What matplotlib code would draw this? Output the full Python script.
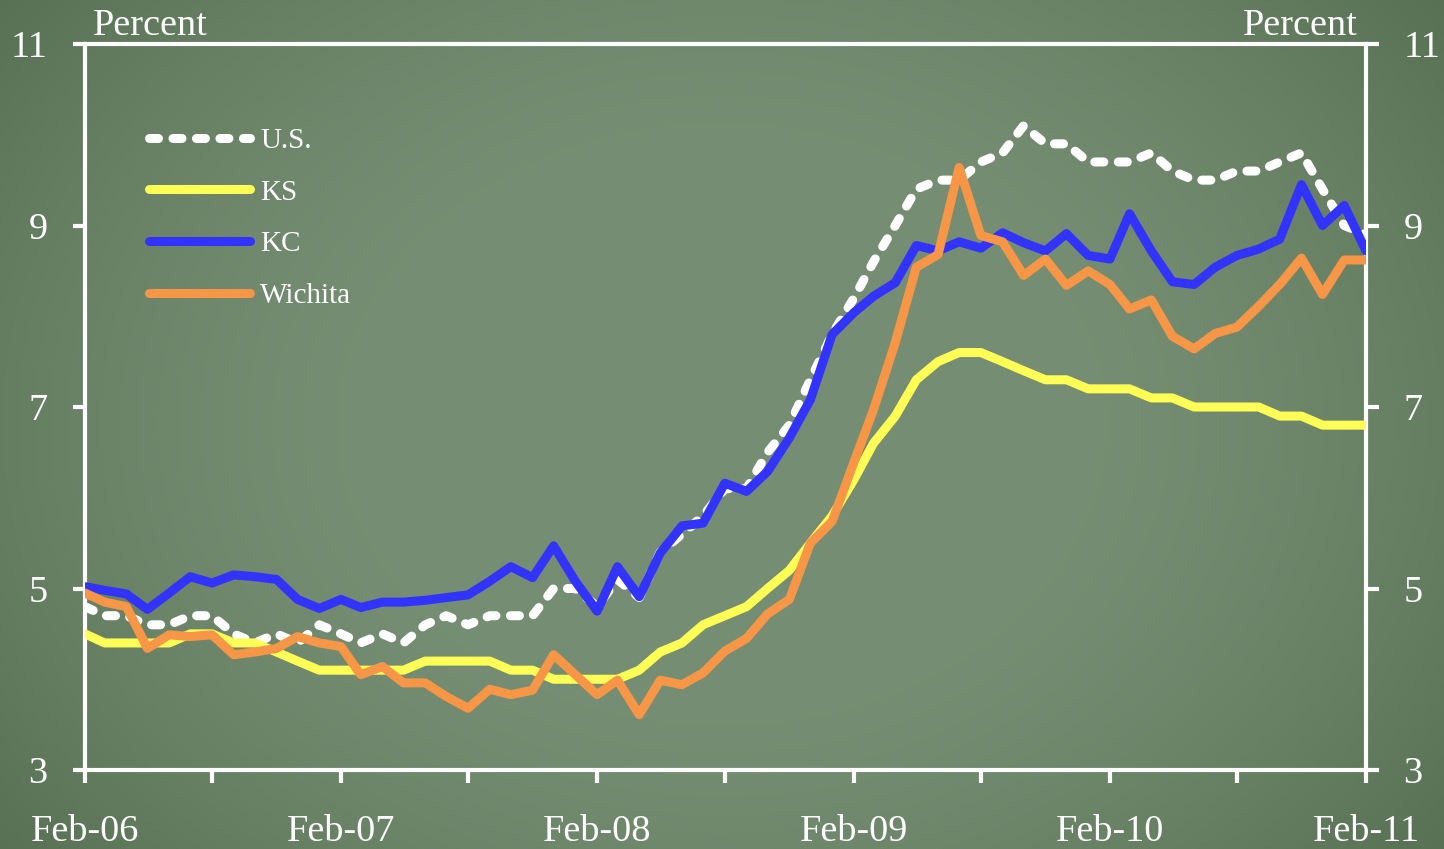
import numpy as np
import pandas as pd
import matplotlib
matplotlib.use("Agg")
import matplotlib.pyplot as plt
import matplotlib.dates as mdates

# Monthly unemployment rates, Feb 2006 - Feb 2011 (percent)
months = pd.date_range("2006-02-01", "2011-02-01", freq="MS")

us = [4.8, 4.7, 4.7, 4.6, 4.6, 4.7, 4.7, 4.5, 4.4, 4.5,
      4.4, 4.6, 4.5, 4.4, 4.5, 4.4, 4.6, 4.7, 4.6, 4.7,
      4.7, 4.7, 5.0, 5.0, 4.8, 5.1, 4.9, 5.4, 5.6, 5.8,
      6.1, 6.1, 6.5, 6.8, 7.3, 7.8, 8.2, 8.6, 9.0, 9.4,
      9.5, 9.5, 9.7, 9.8, 10.1, 9.9, 9.9, 9.7, 9.7, 9.7,
      9.8, 9.6, 9.5, 9.5, 9.6, 9.6, 9.7, 9.8, 9.4, 9.0,
      8.9]

ks = [4.5, 4.4, 4.4, 4.4, 4.4, 4.5, 4.5, 4.4, 4.4, 4.3,
      4.2, 4.1, 4.1, 4.1, 4.1, 4.1, 4.2, 4.2, 4.2, 4.2,
      4.1, 4.1, 4.0, 4.0, 4.0, 4.0, 4.1, 4.3, 4.4, 4.6,
      4.7, 4.8, 5.0, 5.2, 5.5, 5.8, 6.2, 6.6, 6.9, 7.3,
      7.5, 7.6, 7.6, 7.5, 7.4, 7.3, 7.3, 7.2, 7.2, 7.2,
      7.1, 7.1, 7.0, 7.0, 7.0, 7.0, 6.9, 6.9, 6.8, 6.8,
      6.8]

kc = [5.02, 4.98, 4.94, 4.77, 4.95, 5.13, 5.06, 5.15, 5.13, 5.10,
      4.88, 4.78, 4.88, 4.79, 4.85, 4.85, 4.87, 4.90, 4.93, 5.08,
      5.24, 5.12, 5.47, 5.08, 4.75, 5.24, 4.91, 5.39, 5.69, 5.72,
      6.16, 6.07, 6.29, 6.66, 7.08, 7.80, 8.04, 8.22, 8.37, 8.78,
      8.72, 8.82, 8.75, 8.92, 8.81, 8.72, 8.91, 8.67, 8.63, 9.13,
      8.72, 8.38, 8.35, 8.54, 8.67, 8.74, 8.85, 9.45, 9.00, 9.22,
      8.72]

wichita = [4.95, 4.85, 4.80, 4.34, 4.49, 4.47, 4.49, 4.27, 4.30, 4.34,
           4.47, 4.40, 4.36, 4.05, 4.14, 3.96, 3.96, 3.81, 3.68, 3.89,
           3.83, 3.88, 4.27, 4.05, 3.83, 3.99, 3.61, 3.99, 3.94, 4.07,
           4.31, 4.45, 4.72, 4.88, 5.50, 5.74, 6.39, 6.97, 7.71, 8.54,
           8.68, 9.64, 8.89, 8.82, 8.45, 8.63, 8.34, 8.50, 8.35, 8.08,
           8.18, 7.78, 7.64, 7.81, 7.88, 8.11, 8.35, 8.64, 8.24, 8.62,
           8.62]

y_ticks = [3, 5, 7, 9, 11]

plt.rcParams["font.family"] = ["Liberation Serif", "DejaVu Serif"]

fig = plt.figure(figsize=(14.44, 8.49), dpi=100)

# chalkboard-style green backdrop, lighter toward the middle
h, w = 849, 1444
yy, xx = np.mgrid[-1:1:h * 1j, -1:1:w * 1j]
r = np.sqrt((xx * 1.0) ** 2 + (yy * 0.75) ** 2)
t = np.clip((r - 0.45) / 0.8, 0, 1) ** 1.5
center = np.array([118, 142, 115]) / 255.0
edge = np.array([88, 113, 84]) / 255.0
bg = center[None, None, :] * (1 - t[..., None]) + edge[None, None, :] * t[..., None]
bg_ax = fig.add_axes([0, 0, 1, 1], zorder=0)
bg_ax.imshow(bg, aspect="auto", extent=[0, 1, 0, 1])
bg_ax.set_axis_off()

ax = fig.add_axes([85 / 1444, 1 - 770 / 849, (1366 - 85) / 1444, (770 - 44) / 849], zorder=1)
ax.set_facecolor("none")

lw = 6.5
ax.plot(months, us, color="white", lw=lw, dashes=(1.0, 1.6),
        dash_capstyle="round", label="U.S.", zorder=2)
ax.plot(months, ks, color="#FFFF55", lw=lw, solid_capstyle="round", label="KS", zorder=3)
ax.plot(months, kc, color="#3333FF", lw=lw, solid_capstyle="round", label="KC", zorder=4)
ax.plot(months, wichita, color="#F79646", lw=lw, solid_capstyle="round",
        label="Wichita", zorder=5)

ax.set_xlim(months[0], months[-1])
ax.set_ylim(3, 11)
ax.set_yticks(y_ticks)
ax.set_yticklabels([str(v) for v in y_ticks])

ax.xaxis.set_major_locator(mdates.MonthLocator(bymonth=[2]))
ax.xaxis.set_major_formatter(mdates.DateFormatter("%b-%y"))
ax.xaxis.set_minor_locator(mdates.MonthLocator(bymonth=[8]))

for s in ax.spines.values():
    s.set_color("white")
    s.set_linewidth(3)

ax.tick_params(axis="y", which="both", direction="out", length=9, width=3,
               color="white", labelcolor="white", labelsize=27.5, pad=18,
               left=True, right=True, labelleft=True, labelright=True)
ax.tick_params(axis="x", which="both", direction="out", length=9, width=3,
               color="white", labelcolor="white", labelsize=27.5, pad=23)

ax.text(0.006, 1.012, "Percent", transform=ax.transAxes, color="white",
        fontsize=27.5, ha="left", va="baseline")
ax.text(0.9938, 1.012, "Percent", transform=ax.transAxes, color="white",
        fontsize=27.5, ha="right", va="baseline")

leg = ax.legend(loc="upper left", bbox_to_anchor=(0.05, 0.885), frameon=False,
                fontsize=21, handlelength=3.45, handletextpad=0.37,
                labelspacing=0.87, borderpad=0, borderaxespad=0)
for txt in leg.get_texts():
    txt.set_color("white")

fig.savefig("out.png", dpi=100)
